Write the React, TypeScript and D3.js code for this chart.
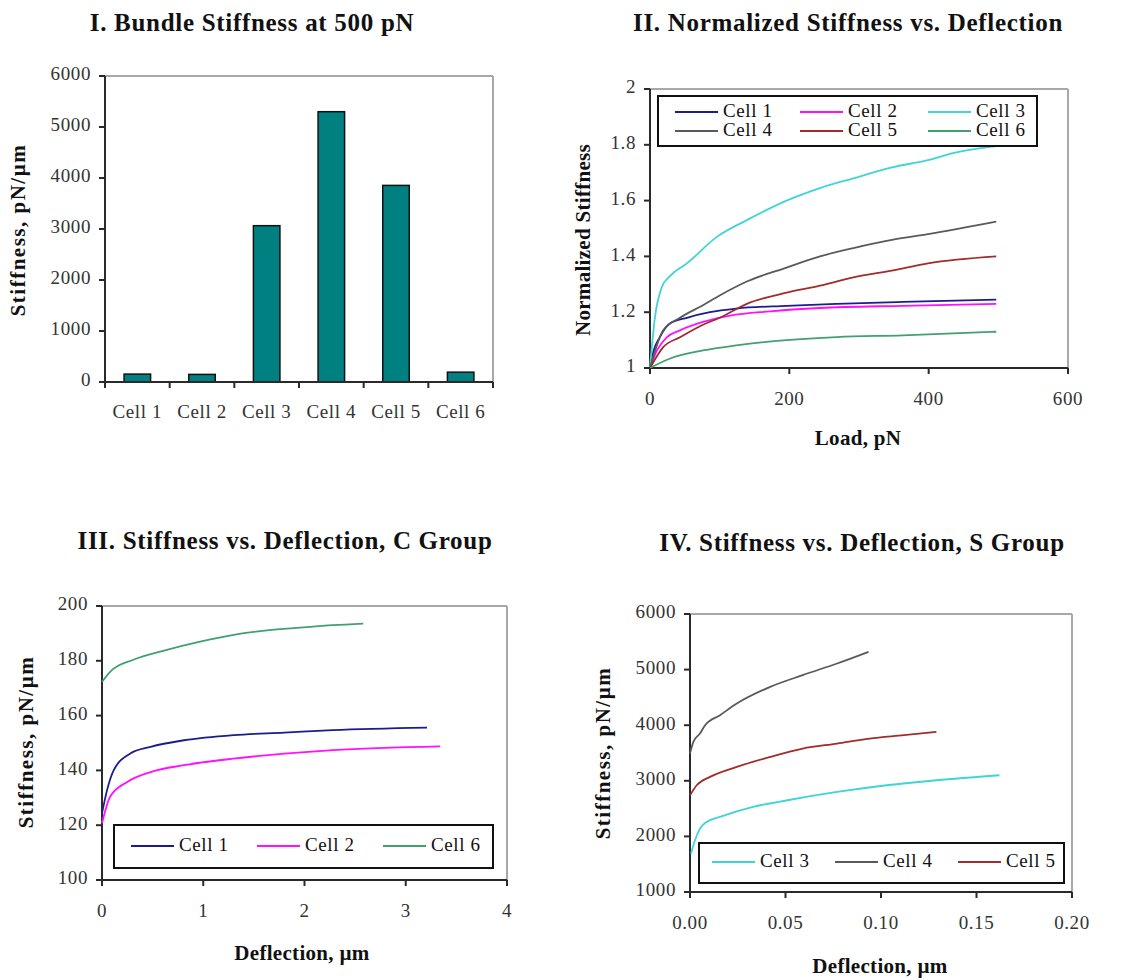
import React from "react";
import * as d3 from "d3";

// ---------- DATA ----------
const barCategories = ["Cell 1", "Cell 2", "Cell 3", "Cell 4", "Cell 5", "Cell 6"];
const barValues = [155, 149, 3065, 5300, 3855, 193];
const barYTicks = [0, 1000, 2000, 3000, 4000, 5000, 6000];

// Panel II: normalized stiffness vs load (pN)
const p2Cell1 = [[0, 1], [5, 1.06], [14, 1.11], [29, 1.16], [53, 1.18], [86, 1.2], [124, 1.213], [196, 1.223], [268, 1.23], [363, 1.237], [497, 1.245]];
const p2Cell2 = [[0, 1], [10, 1.063], [24, 1.11], [43, 1.135], [76, 1.165], [115, 1.188], [172, 1.203], [244, 1.215], [363, 1.223], [497, 1.23]];
const p2Cell3 = [[0, 1], [7, 1.18], [17, 1.29], [29, 1.33], [53, 1.375], [96, 1.47], [139, 1.53], [196, 1.6], [244, 1.645], [292, 1.68], [349, 1.72], [399, 1.745], [435, 1.77], [497, 1.795]];
const p2Cell4 = [[0, 1], [19, 1.135], [43, 1.18], [76, 1.225], [100, 1.26], [139, 1.31], [196, 1.36], [244, 1.4], [292, 1.43], [349, 1.46], [399, 1.48], [497, 1.525]];
const p2Cell5 = [[0, 1], [19, 1.075], [43, 1.11], [76, 1.155], [100, 1.18], [139, 1.23], [196, 1.27], [244, 1.295], [292, 1.325], [349, 1.35], [399, 1.375], [497, 1.4]];
const p2Cell6 = [[0, 1], [29, 1.034], [76, 1.063], [124, 1.081], [196, 1.1], [268, 1.111], [363, 1.117], [497, 1.13]];
const p2XTicks = [0, 200, 400, 600];
const p2YTicks = [1, 1.2, 1.4, 1.6, 1.8, 2];

// Panel III: C group stiffness vs deflection (µm)
const p3Cell1 = [[0, 124.3], [0.05, 132.8], [0.115, 140], [0.28, 146.2], [0.48, 148.6], [0.81, 151], [1.3, 152.9], [1.8, 153.8], [2.28, 154.7], [3.21, 155.6]];
const p3Cell2 = [[0, 120.7], [0.08, 130.4], [0.25, 135.8], [0.48, 139.4], [0.81, 141.9], [1.3, 144.3], [1.8, 146.1], [2.28, 147.4], [3.34, 148.8]];
const p3Cell6 = [[0, 172.3], [0.08, 176], [0.31, 180.4], [0.64, 184], [0.97, 187], [1.3, 189.5], [1.63, 191.1], [1.96, 192.1], [2.28, 193], [2.58, 193.6]];
const p3XTicks = [0, 1, 2, 3, 4];
const p3YTicks = [100, 120, 140, 160, 180, 200];

// Panel IV: S group stiffness vs deflection (µm)
const p4Cell3 = [[0.0005, 1690], [0.0026, 1930], [0.0052, 2140], [0.0087, 2260], [0.0157, 2350], [0.033, 2530], [0.051, 2650], [0.077, 2800], [0.103, 2920], [0.129, 3010], [0.162, 3100]];
const p4Cell4 = [[0, 3490], [0.00175, 3700], [0.0052, 3850], [0.0079, 4000], [0.0157, 4180], [0.0245, 4390], [0.042, 4690], [0.059, 4900], [0.077, 5110], [0.0935, 5320]];
const p4Cell5 = [[0, 2740], [0.0035, 2920], [0.0105, 3070], [0.0245, 3250], [0.042, 3430], [0.059, 3580], [0.077, 3670], [0.094, 3760], [0.112, 3820], [0.129, 3880]];
const p4XTicks = [0, 0.05, 0.1, 0.15, 0.2];
const p4YTicks = [1000, 2000, 3000, 4000, 5000, 6000];

const COLORS: Record<string, string> = {
  "Cell 1": "#1c1c8c",
  "Cell 2": "#ff10ff",
  "Cell 3": "#40d4d4",
  "Cell 4": "#5a5a5a",
  "Cell 5": "#a02c2c",
  "Cell 6": "#40a070",
};

const FONT = "'Liberation Serif', 'DejaVu Serif', serif";
const TICK_COLOR = "#333";
const AXIS_COLOR = "#2a2a2a";
const BORDER_COLOR = "#a8a8a8";
const TICK_FS = 19;
const TICK_LS = 0.6;

type Series = { name: string; data: number[][] };

function Frame({ x0, x1, y0, y1 }: { x0: number; x1: number; y0: number; y1: number }) {
  return (
    <g>
      <line x1={x0} x2={x1} y1={y0} y2={y0} stroke={BORDER_COLOR} strokeWidth={2} />
      <line x1={x1} x2={x1} y1={y0} y2={y1} stroke={BORDER_COLOR} strokeWidth={2} />
      <line x1={x0} x2={x0} y1={y0} y2={y1} stroke={AXIS_COLOR} strokeWidth={2} />
      <line x1={x0} x2={x1} y1={y1} y2={y1} stroke={AXIS_COLOR} strokeWidth={2} />
    </g>
  );
}

function Title({ x, y, text }: { x: number; y: number; text: string }) {
  return (
    <text x={x} y={y} textAnchor="middle" dominantBaseline="middle" fontFamily={FONT} fontWeight="bold" fontSize={25} letterSpacing={0.7} fill="#111">
      {text}
    </text>
  );
}

function AxisTitle({ x, y, text, rotate, ls }: { x: number; y: number; text: string; rotate?: boolean; ls?: number }) {
  return (
    <text
      x={x}
      y={y}
      textAnchor="middle"
      dominantBaseline="middle"
      fontFamily={FONT}
      fontWeight="bold"
      fontSize={21}
      letterSpacing={ls ?? 0.3}
      fill="#111"
      transform={rotate ? `rotate(-90 ${x} ${y})` : undefined}
    >
      {text}
    </text>
  );
}

function YAxis({ scale, ticks, x, fmt }: { scale: d3.ScaleLinear<number, number>; ticks: number[]; x: number; fmt: (v: number) => string }) {
  return (
    <g>
      {ticks.map((t) => (
        <g key={t}>
          <line x1={x - 6} x2={x} y1={scale(t)} y2={scale(t)} stroke={AXIS_COLOR} strokeWidth={2} />
          <text x={x - 14} y={scale(t)} textAnchor="end" dominantBaseline="middle" fontFamily={FONT} fontSize={TICK_FS} letterSpacing={TICK_LS} fill={TICK_COLOR}>
            {fmt(t)}
          </text>
        </g>
      ))}
    </g>
  );
}

function XAxis({ scale, ticks, y, fmt }: { scale: d3.ScaleLinear<number, number>; ticks: number[]; y: number; fmt: (v: number) => string }) {
  return (
    <g>
      {ticks.map((t) => (
        <g key={t}>
          <line x1={scale(t)} x2={scale(t)} y1={y} y2={y + 6} stroke={AXIS_COLOR} strokeWidth={2} />
          <text x={scale(t)} y={y + 33} textAnchor="middle" dominantBaseline="middle" fontFamily={FONT} fontSize={TICK_FS} letterSpacing={TICK_LS} fill={TICK_COLOR}>
            {fmt(t)}
          </text>
        </g>
      ))}
    </g>
  );
}

function Legend({ x0, x1, y0, y1, items, cols, rowYs, colXs }: { x0: number; x1: number; y0: number; y1: number; items: string[]; cols: number; rowYs: number[]; colXs: number[] }) {
  return (
    <g>
      <rect x={x0} y={y0} width={x1 - x0} height={y1 - y0} fill="white" stroke="#111" strokeWidth={2} />
      {items.map((name, i) => {
        const c = i % cols;
        const r = Math.floor(i / cols);
        const lx = colXs[c];
        const ly = rowYs[r];
        return (
          <g key={name}>
            <line x1={lx} x2={lx + 43} y1={ly} y2={ly} stroke={COLORS[name]} strokeWidth={2} />
            <text x={lx + 48} y={ly + 1} dominantBaseline="middle" fontFamily={FONT} fontSize={TICK_FS} letterSpacing={TICK_LS} fill="#111">
              {name}
            </text>
          </g>
        );
      })}
    </g>
  );
}

function LinePanel({
  series, xDomain, yDomain, xRange, yRange, xTicks, yTicks, xFmt, yFmt,
}: {
  series: Series[]; xDomain: [number, number]; yDomain: [number, number]; xRange: [number, number]; yRange: [number, number];
  xTicks: number[]; yTicks: number[]; xFmt: (v: number) => string; yFmt: (v: number) => string;
}) {
  const xs = d3.scaleLinear().domain(xDomain).range(xRange);
  const ys = d3.scaleLinear().domain(yDomain).range(yRange);
  const line = d3
    .line<number[]>()
    .x((d) => xs(d[0]))
    .y((d) => ys(d[1]))
    .curve(d3.curveMonotoneX);
  return (
    <g>
      <Frame x0={xRange[0]} x1={xRange[1]} y0={yRange[1]} y1={yRange[0]} />
      {series.map((s) => (
        <path key={s.name} d={line(s.data) || ""} fill="none" stroke={COLORS[s.name]} strokeWidth={1.8} />
      ))}
      <YAxis scale={ys} ticks={yTicks} x={xRange[0]} fmt={yFmt} />
      <XAxis scale={xs} ticks={xTicks} y={yRange[0]} fmt={xFmt} />
    </g>
  );
}

function BarPanel() {
  const x0 = 105, x1 = 493, yTop = 76, yBot = 382;
  const xb = d3.scaleBand<string>().domain(barCategories).range([x0, x1]).paddingInner(0).paddingOuter(0);
  const ys = d3.scaleLinear().domain([0, 6000]).range([yBot, yTop]);
  const bw = xb.bandwidth() * 0.41;
  const edges = [...barCategories.map((c) => xb(c) as number), x1];
  return (
    <g>
      <Frame x0={x0} x1={x1} y0={yTop} y1={yBot} />
      {barCategories.map((c, i) => (
        <rect
          key={c}
          x={(xb(c) as number) + xb.bandwidth() / 2 - bw / 2}
          y={ys(barValues[i])}
          width={bw}
          height={yBot - ys(barValues[i])}
          fill="#008080"
          stroke="#111"
          strokeWidth={1.5}
        />
      ))}
      <line x1={x0} x2={x1} y1={yBot} y2={yBot} stroke={AXIS_COLOR} strokeWidth={2} />
      <YAxis scale={ys} ticks={barYTicks} x={x0} fmt={(v) => String(v)} />
      {edges.map((e, i) => (
        <line key={i} x1={e} x2={e} y1={yBot} y2={yBot + 6} stroke={AXIS_COLOR} strokeWidth={2} />
      ))}
      {barCategories.map((c) => (
        <text key={c} x={(xb(c) as number) + xb.bandwidth() / 2} y={yBot + 32} textAnchor="middle" dominantBaseline="middle" fontFamily={FONT} fontSize={TICK_FS} letterSpacing={TICK_LS} fill={TICK_COLOR}>
          {c}
        </text>
      ))}
    </g>
  );
}

export default function App() {
  return (
    <svg width={1140} height={980} style={{ position: "absolute", left: 0, top: 0, background: "white" }}>
      <rect width={1140} height={980} fill="white" />
      {/* Panel I */}
      <Title x={252} y={25} text="I. Bundle Stiffness at 500 pN" />
      <BarPanel />
      <AxisTitle x={20} y={230} text="Stiffness, pN/µm" rotate ls={1.5} />

      {/* Panel II */}
      <Title x={848} y={25} text="II. Normalized Stiffness vs. Deflection" />
      <LinePanel
        series={[
          { name: "Cell 1", data: p2Cell1 },
          { name: "Cell 2", data: p2Cell2 },
          { name: "Cell 3", data: p2Cell3 },
          { name: "Cell 4", data: p2Cell4 },
          { name: "Cell 5", data: p2Cell5 },
          { name: "Cell 6", data: p2Cell6 },
        ]}
        xDomain={[0, 600]}
        yDomain={[1, 2]}
        xRange={[650, 1068]}
        yRange={[368, 89]}
        xTicks={p2XTicks}
        yTicks={p2YTicks}
        xFmt={(v) => String(v)}
        yFmt={(v) => String(v)}
      />
      <Legend x0={658} x1={1037} y0={96} y1={146} items={["Cell 1", "Cell 2", "Cell 3", "Cell 4", "Cell 5", "Cell 6"]} cols={3} rowYs={[112, 131]} colXs={[675, 800, 928]} />
      <AxisTitle x={585} y={240} text="Normalized Stiffness" rotate />
      <AxisTitle x={858} y={440} text="Load, pN" />

      {/* Panel III */}
      <Title x={285} y={543} text="III. Stiffness vs. Deflection, C Group" />
      <LinePanel
        series={[
          { name: "Cell 1", data: p3Cell1 },
          { name: "Cell 2", data: p3Cell2 },
          { name: "Cell 6", data: p3Cell6 },
        ]}
        xDomain={[0, 4]}
        yDomain={[100, 200]}
        xRange={[102, 507]}
        yRange={[880, 606]}
        xTicks={p3XTicks}
        yTicks={p3YTicks}
        xFmt={(v) => String(v)}
        yFmt={(v) => String(v)}
      />
      <Legend x0={114} x1={493} y0={825} y1={868} items={["Cell 1", "Cell 2", "Cell 6"]} cols={3} rowYs={[846]} colXs={[131, 257, 383]} />
      <AxisTitle x={28} y={742} text="Stiffness, pN/µm" rotate ls={1.5} />
      <AxisTitle x={302} y={955} text="Deflection, µm" />

      {/* Panel IV */}
      <Title x={862} y={545} text="IV. Stiffness vs. Deflection, S Group" />
      <LinePanel
        series={[
          { name: "Cell 3", data: p4Cell3 },
          { name: "Cell 4", data: p4Cell4 },
          { name: "Cell 5", data: p4Cell5 },
        ]}
        xDomain={[0, 0.2]}
        yDomain={[1000, 6000]}
        xRange={[690, 1072]}
        yRange={[892, 614]}
        xTicks={p4XTicks}
        yTicks={p4YTicks}
        xFmt={(v) => v.toFixed(2)}
        yFmt={(v) => String(v)}
      />
      <Legend x0={699} x1={1064} y0={843} y1={883} items={["Cell 3", "Cell 4", "Cell 5"]} cols={3} rowYs={[862]} colXs={[712, 835, 958]} />
      <AxisTitle x={605} y={753} text="Stiffness, pN/µm" rotate ls={1.5} />
      <AxisTitle x={880} y={968} text="Deflection, µm" />
    </svg>
  );
}
